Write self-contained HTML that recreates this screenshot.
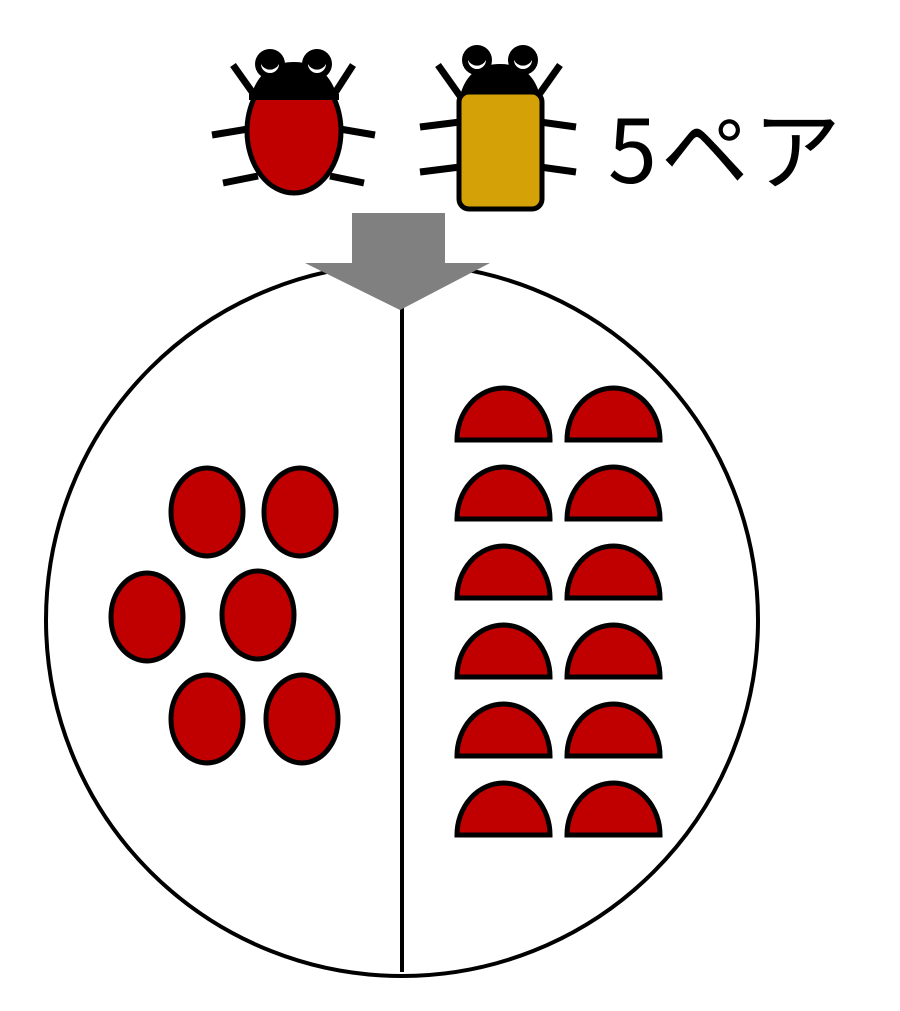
<!DOCTYPE html>
<html><head><meta charset="utf-8"><style>body{margin:0;background:#fff}svg{display:block}</style></head><body>
<svg width="900" height="1011" viewBox="0 0 900 1011" xmlns="http://www.w3.org/2000/svg">
<g stroke="#000" stroke-width="7" stroke-linecap="butt">
<line x1="233" y1="65" x2="255" y2="96"/><line x1="353" y1="65" x2="333" y2="96"/>
<line x1="212" y1="135" x2="248" y2="129"/><line x1="223" y1="183" x2="258" y2="176"/>
<line x1="340" y1="129" x2="375" y2="135"/><line x1="330" y1="176" x2="364" y2="183"/>
<line x1="438" y1="65" x2="460" y2="96"/><line x1="560" y1="65" x2="538" y2="96"/>
<line x1="420" y1="127" x2="460" y2="122"/><line x1="420" y1="172" x2="460" y2="167"/>
<line x1="540" y1="122" x2="576" y2="127"/><line x1="540" y1="167" x2="576" y2="172"/>
</g>
<ellipse cx="294" cy="131" rx="47" ry="62" fill="#c00000" stroke="#000" stroke-width="5"/>
<path d="M250 99 Q260 62 294 62 Q328 62 338 99 Z" fill="#000"/>
<rect x="249" y="94" width="90" height="6" fill="#000"/>
<circle cx="270" cy="64" r="15" fill="#000"/><circle cx="317" cy="64" r="15" fill="#000"/>
<path d="M261 64 a10 10 0 0 0 18 0 a8 8 0 0 1 -18 0Z" fill="#fff"/>
<path d="M308 64 a10 10 0 0 0 18 0 a8 8 0 0 1 -18 0Z" fill="#fff"/>
<path d="M460 96 Q468 64 500 64 Q532 64 540 96 Z" fill="#000"/>
<rect x="459" y="92" width="83" height="117" rx="10" fill="#d4a106" stroke="#000" stroke-width="5"/>
<circle cx="477" cy="60" r="15" fill="#000"/><circle cx="523" cy="60" r="15" fill="#000"/>
<path d="M468 60 a10 10 0 0 0 18 0 a8 8 0 0 1 -18 0Z" fill="#fff"/>
<path d="M514 60 a10 10 0 0 0 18 0 a8 8 0 0 1 -18 0Z" fill="#fff"/>
<text x="608" y="183" font-family="'Noto Sans CJK JP', 'Liberation Sans', sans-serif" font-size="88" letter-spacing="4" fill="#000">5ペア</text>
<circle cx="402" cy="620" r="356" fill="none" stroke="#000" stroke-width="4"/>
<line x1="402" y1="305" x2="402" y2="972" stroke="#000" stroke-width="4"/>
<polygon points="352,213 445,213 445,263 490,263 400,310 305,263 352,263" fill="#808080"/>
<g fill="#c00000" stroke="#000" stroke-width="5">
<ellipse cx="207" cy="512" rx="36" ry="44"/><ellipse cx="300" cy="512" rx="36" ry="44"/>
<ellipse cx="147" cy="617" rx="36" ry="44"/><ellipse cx="258" cy="615" rx="36" ry="44"/>
<ellipse cx="207" cy="719" rx="36" ry="44"/><ellipse cx="302" cy="719" rx="36" ry="44"/>
</g>
<g fill="#c00000" stroke="#000" stroke-width="5">
<path id="s" d="M457 440 A46.5 52 0 0 1 550 440 Z"/>
<use href="#s" x="110"/>
<use href="#s" y="79"/><use href="#s" x="110" y="79"/>
<use href="#s" y="158"/><use href="#s" x="110" y="158"/>
<use href="#s" y="237"/><use href="#s" x="110" y="237"/>
<use href="#s" y="316"/><use href="#s" x="110" y="316"/>
<use href="#s" y="395"/><use href="#s" x="110" y="395"/>
</g>
</svg>
</body></html>
